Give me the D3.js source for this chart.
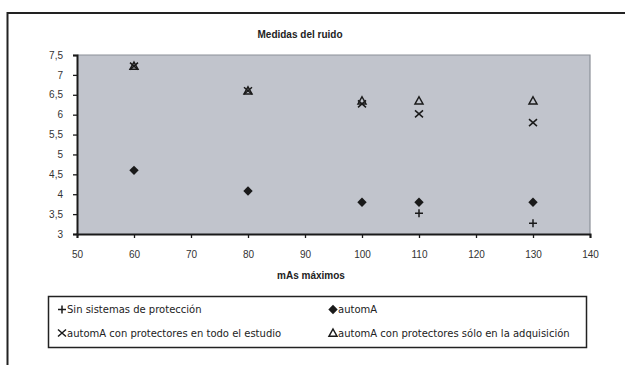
<!DOCTYPE html>
<html>
<head>
<meta charset="utf-8">
<script src="https://cdn.jsdelivr.net/npm/d3@7"></script>
<style>
  html, body { margin: 0; padding: 0; background: #fff; }
  svg { display: block; }
</style>
</head>
<body>
<svg id="chart" width="625" height="365"></svg>
<script>
// Noise measurements versus maximum mAs
const xTicks = [50, 60, 70, 80, 90, 100, 110, 120, 130, 140];
const yTicks = [3, 3.5, 4, 4.5, 5, 5.5, 6, 6.5, 7, 7.5];

const sinProteccionX = [110, 130];
const sinProteccionY = [3.52, 3.27];

const automAX = [60, 80, 100, 110, 130];
const automAY = [4.6, 4.08, 3.8, 3.8, 3.8];

const todoEstudioX = [60, 80, 100, 110, 130];
const todoEstudioY = [7.22, 6.6, 6.27, 6.02, 5.8];

const adquisicionX = [60, 80, 100, 110, 130];
const adquisicionY = [7.22, 6.6, 6.35, 6.35, 6.35];

const seriesNames = [
  "Sin sistemas de protección",
  "automA",
  "automA con protectores en todo el estudio",
  "automA con protectores sólo en la adquisición"
];

const svg = d3.select("#chart");
const ink = "#1a1a1a";

// outer chart frame (top and left edges)
svg.append("path")
  .attr("d", "M7.5,365 V13 H625")
  .attr("fill", "none").attr("stroke", "#222").attr("stroke-width", 2);

const x = d3.scaleLinear().domain([50, 140]).range([77, 590]);
const y = d3.scaleLinear().domain([3, 7.5]).range([234, 55]);

// plot area
svg.append("rect")
  .attr("x", x(50)).attr("y", y(7.5))
  .attr("width", x(140) - x(50)).attr("height", y(3) - y(7.5))
  .attr("fill", "#c1c4cc");
svg.append("path")
  .attr("d", `M${x(50)},${y(7.5)} H${x(140)} V${y(3)}`)
  .attr("fill", "none").attr("stroke", "#8c9098").attr("stroke-width", 1.2);

const fmt = d => String(d).replace(".", ",");

const yAxis = svg.append("g")
  .attr("transform", `translate(${x(50)},0)`)
  .call(d3.axisLeft(y).tickValues(yTicks).tickSize(4).tickPadding(10).tickFormat(fmt));
const xAxis = svg.append("g")
  .attr("transform", `translate(0,${y(3)})`)
  .call(d3.axisBottom(x).tickValues(xTicks).tickSize(4).tickPadding(13).tickFormat(fmt));

[xAxis, yAxis].forEach(g => {
  g.select(".domain").attr("stroke", ink).attr("stroke-width", 2);
  g.selectAll(".tick line").attr("stroke", ink).attr("stroke-width", 1.3);
  g.selectAll(".tick text")
    .attr("fill", "#333")
    .style("font-family", "'Liberation Sans', Arial, sans-serif")
    .style("font-size", "10px");
});

// titles
svg.append("text")
  .attr("x", 300).attr("y", 38)
  .attr("text-anchor", "middle")
  .style("font-family", "'Liberation Sans', Arial, sans-serif")
  .style("font-size", "10px").style("font-weight", "bold")
  .attr("fill", "#222")
  .text("Medidas del ruido");
svg.append("text")
  .attr("x", 311).attr("y", 279)
  .attr("text-anchor", "middle")
  .style("font-family", "'Liberation Sans', Arial, sans-serif")
  .style("font-size", "10px").style("font-weight", "bold")
  .attr("fill", "#222")
  .text("mAs máximos");

// marker shapes
const shapes = {
  plus: { d: "M-4,0H4M0,-4V4", fill: "none", stroke: ink, sw: 1.5 },
  diamond: { d: "M0,-4.7L4.7,0L0,4.7L-4.7,0Z", fill: ink, stroke: "none", sw: 0 },
  cross: { d: "M-4,-3.5L4,3.5M-4,3.5L4,-3.5", fill: "none", stroke: ink, sw: 1.5 },
  triangle: { d: "M0,-4L4,3.2H-4Z", fill: "none", stroke: ink, sw: 1.5 }
};

const series = [
  { name: seriesNames[0], xs: sinProteccionX, ys: sinProteccionY, shape: "plus" },
  { name: seriesNames[1], xs: automAX, ys: automAY, shape: "diamond" },
  { name: seriesNames[2], xs: todoEstudioX, ys: todoEstudioY, shape: "cross" },
  { name: seriesNames[3], xs: adquisicionX, ys: adquisicionY, shape: "triangle" }
];

function drawMarker(sel, shape) {
  const s = shapes[shape];
  sel.append("path")
    .attr("d", s.d)
    .attr("fill", s.fill)
    .attr("stroke", s.stroke)
    .attr("stroke-width", s.sw);
}

series.forEach(sr => {
  const pts = sr.xs.map((v, i) => [v, sr.ys[i]]);
  svg.append("g").selectAll("g")
    .data(pts)
    .join("g")
    .attr("transform", d => `translate(${x(d[0])},${y(d[1])})`)
    .each(function () { drawMarker(d3.select(this), sr.shape); });
});

// legend
const legend = svg.append("g");
legend.append("rect")
  .attr("x", 48.5).attr("y", 296.5).attr("width", 538).attr("height", 51)
  .attr("fill", "#fff").attr("stroke", "#222").attr("stroke-width", 1.5);

const legendPos = [[62, 309.5], [333, 309.5], [62, 333], [333, 333]];
series.forEach((sr, i) => {
  const [lx, ly] = legendPos[i];
  const g = legend.append("g").attr("transform", `translate(${lx},${ly})`);
  drawMarker(g, sr.shape);
  g.append("text")
    .attr("x", 5).attr("y", 0).attr("dy", "0.35em")
    .style("font-family", "'DejaVu Sans', sans-serif")
    .style("font-size", "10px")
    .attr("fill", "#222")
    .text(sr.name);
});
</script>
</body>
</html>
